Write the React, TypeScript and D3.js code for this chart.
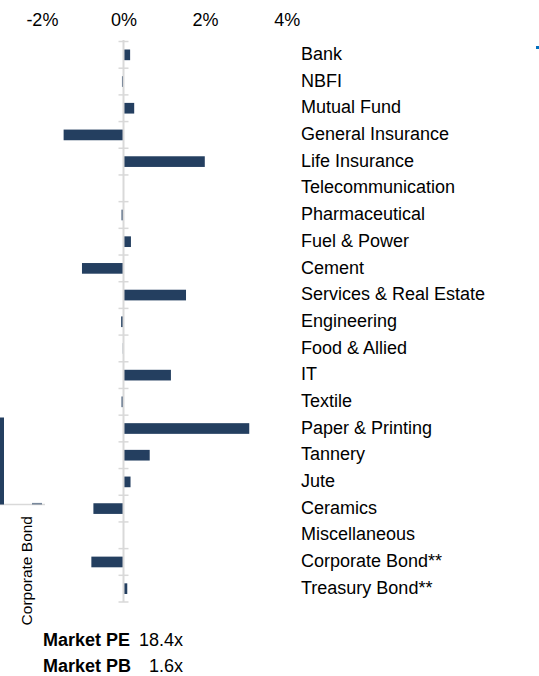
import * as d3 from "d3";

// sector weekly return (%)
const sectors = [
  "Bank",
  "NBFI",
  "Mutual Fund",
  "General Insurance",
  "Life Insurance",
  "Telecommunication",
  "Pharmaceutical",
  "Fuel & Power",
  "Cement",
  "Services & Real Estate",
  "Engineering",
  "Food & Allied",
  "IT",
  "Textile",
  "Paper & Printing",
  "Tannery",
  "Jute",
  "Ceramics",
  "Miscellaneous",
  "Corporate Bond**",
  "Treasury Bond**",
];
const returns = [
  0.15, -0.05, 0.25, -1.48, 1.98, 0, -0.06, 0.17, -1.03, 1.52, -0.07, -0.03,
  1.15, -0.06, 3.07, 0.63, 0.16, -0.75, 0, -0.8, 0.08,
];
const xTicks = [-2, 0, 2, 4];

// clipped neighbour chart on the left edge
const sideCats = ["Treasury Bond", "Corporate Bond"];
const sideValues = [4.35, 0.08];

const footLabels = ["Market PE", "Market PB"];
const footValues = ["18.4x", "1.6x"];

const W = 539;
const H = 676;
const BAR = "#243F60";
const GRID = "#d9d9d9";
const FONT = "Arial, 'Liberation Sans', sans-serif";

export default function App() {
  const x = d3.scaleLinear([-2, 4], [42.4, 287.2]);
  const y = d3.scaleBand(sectors, [41.5, 602]).paddingInner(0.6).paddingOuter(0.3);
  const step = y.step();
  const x0 = x(0);

  const sx = d3.scaleBand(sideCats, [-30, 46]);
  const sy = d3.scaleLinear([0, 5], [504.5, 404.5]);

  return (
    <svg
      width={W}
      height={H}
      style={{ position: "absolute", left: 0, top: 0, fontFamily: FONT }}
    >
      <title>Sector return</title>

      {/* top axis labels */}
      <g fontSize="18" textAnchor="middle" fill="#000">
        {xTicks.map((t) => (
          <text key={t} x={x(t)} y={26}>
            {t}%
          </text>
        ))}
      </g>

      {/* bars */}
      <g fill={BAR}>
        {returns.map((v, i) => (
          <rect
            key={sectors[i]}
            x={Math.min(x(v), x0)}
            y={y(sectors[i])}
            width={Math.abs(x(v) - x0)}
            height={y.bandwidth()}
          />
        ))}
      </g>

      {/* zero axis with ticks */}
      <line x1={x0 - 0.5} x2={x0 - 0.5} y1={40} y2={602} stroke={GRID} strokeWidth="2" />
      <g stroke={GRID} strokeWidth="1.5">
        {d3.range(sectors.length + 1).map((i) => (
          <line
            key={i}
            x1={x0 - 5.5}
            x2={x0 + 4.5}
            y1={41.5 + i * step}
            y2={41.5 + i * step}
          />
        ))}
      </g>

      {/* sector labels */}
      <g fontSize="18" fill="#000">
        {sectors.map((s) => (
          <text key={s} x={301} y={y(s)! + y.bandwidth() / 2 + 5.2}>
            {s}
          </text>
        ))}
      </g>

      {/* left fragment */}
      <line x1={0} x2={45} y1={sy(0)} y2={sy(0)} stroke={GRID} strokeWidth="1.5" />
      <g fill={BAR}>
        {sideValues.map((v, i) => (
          <rect
            key={sideCats[i]}
            x={sx(sideCats[i])! + sx.bandwidth() / 2 + 5}
            y={sy(v)}
            width={10}
            height={sy(0) - sy(v)}
            opacity={i === 1 ? 0.6 : 1}
          />
        ))}
      </g>
      <text
        transform={`translate(${sx("Corporate Bond")! + sx.bandwidth() / 2 + 5},516) rotate(-90)`}
        textAnchor="end"
        fontSize="15.5"
        fill="#000"
      >
        Corporate Bond
      </text>

      {/* stray legend marker */}
      <rect x={536} y={46} width={3} height={3} fill="#0070C0" />

      {/* footer */}
      {footLabels.map((l, i) => (
        <g key={l} fontSize="18" fill="#000">
          <text x={43} y={646 + i * 26} fontWeight="bold">
            {l}
          </text>
          <text x={183} y={646 + i * 26} textAnchor="end">
            {footValues[i]}
          </text>
        </g>
      ))}
    </svg>
  );
}
